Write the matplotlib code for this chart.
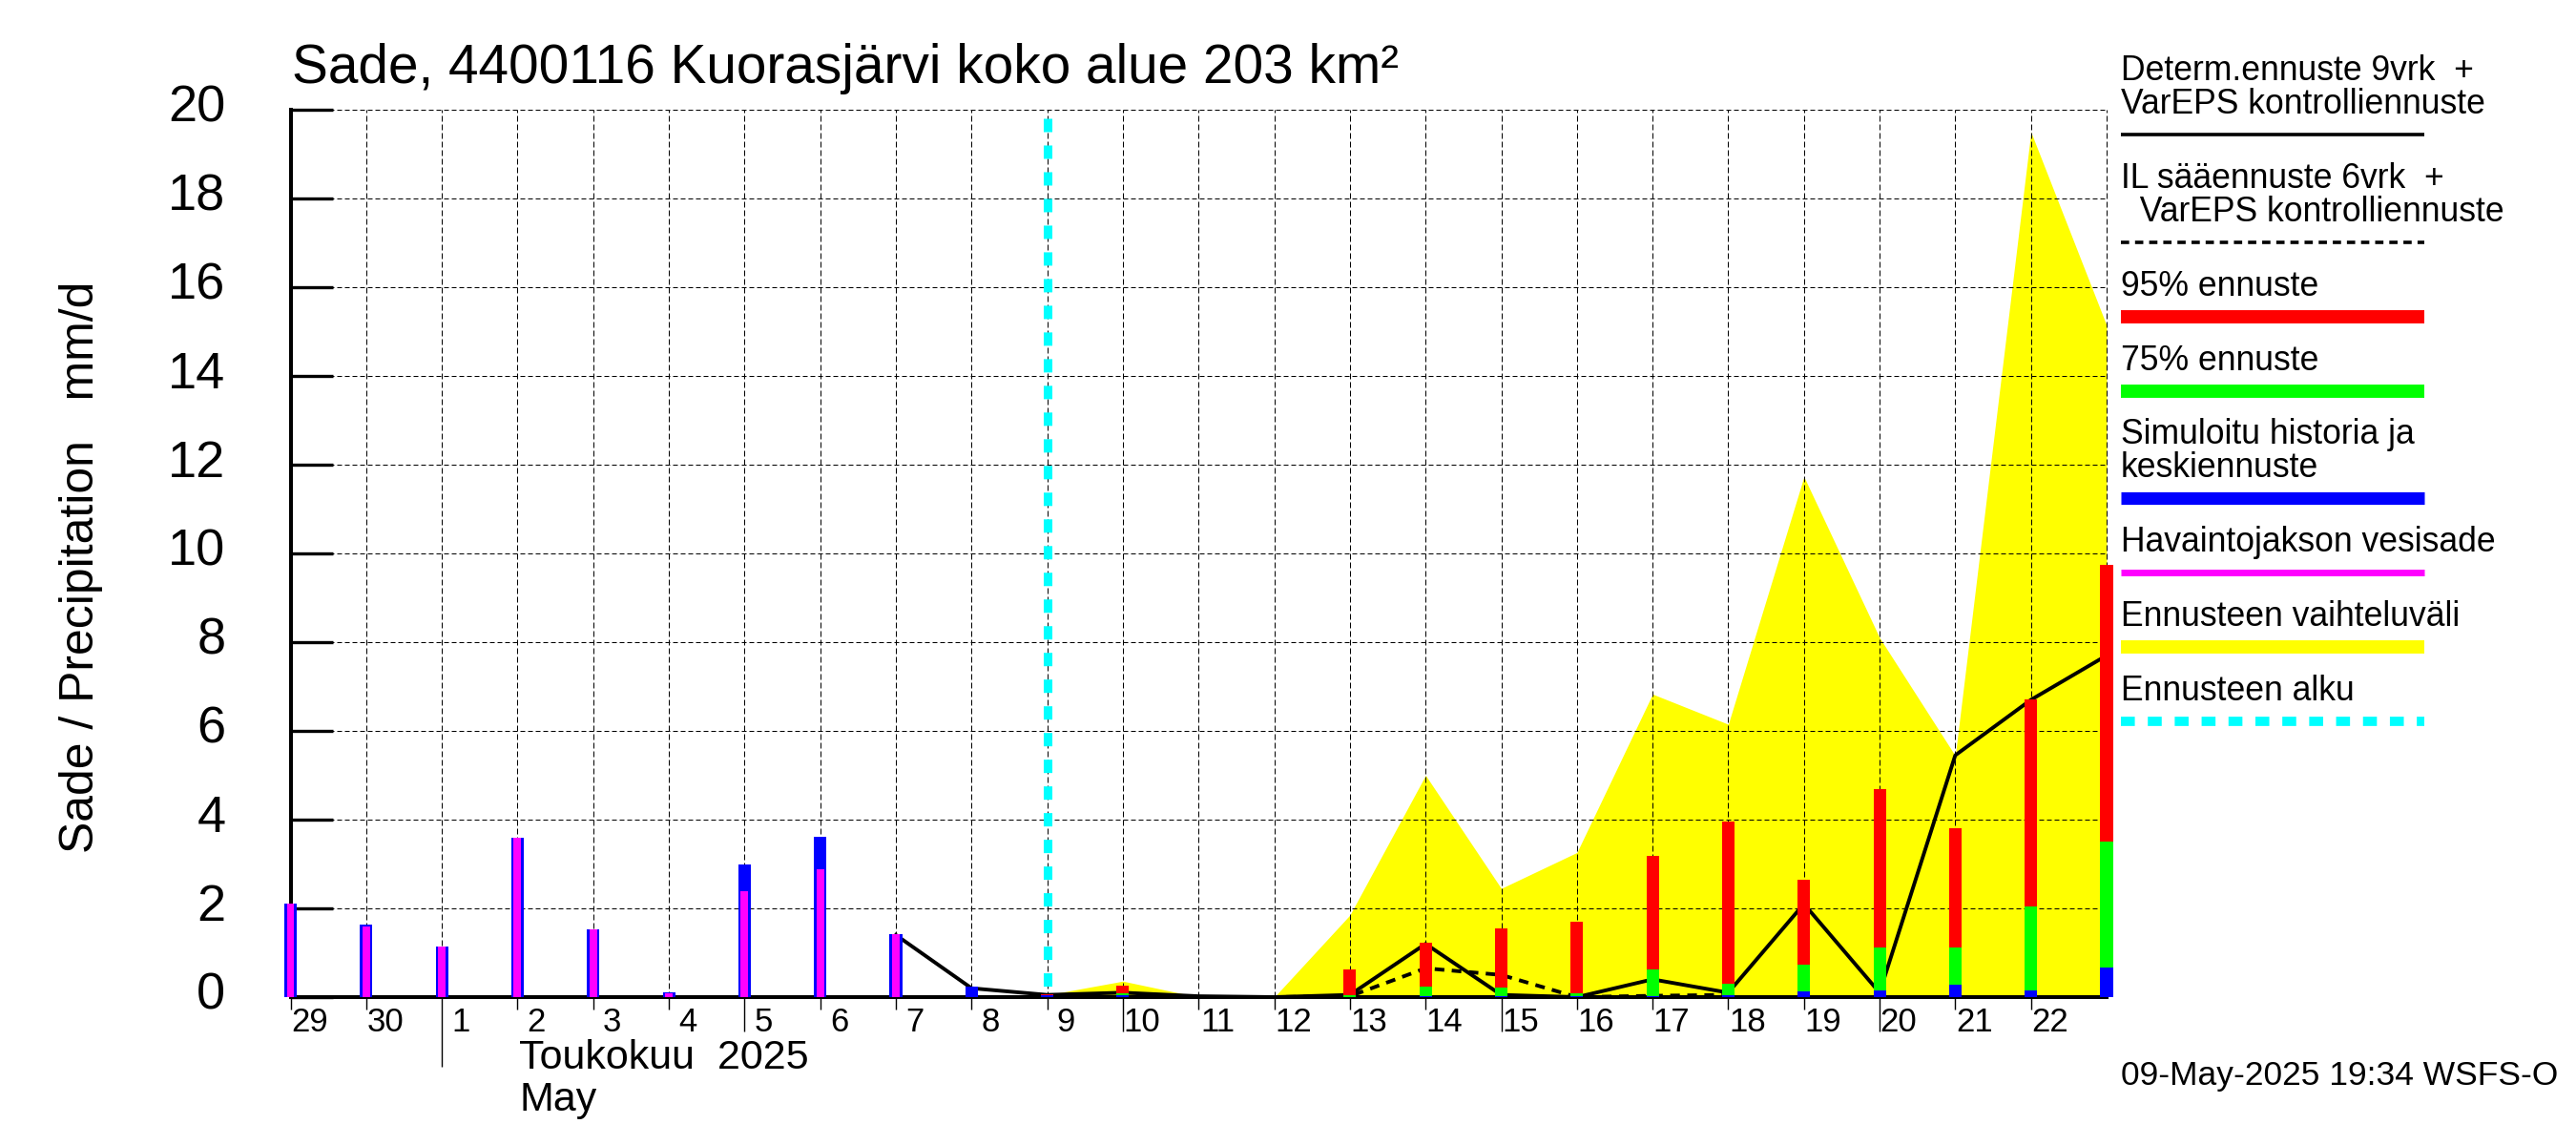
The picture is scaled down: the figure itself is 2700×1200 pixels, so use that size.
# %% libraries
import matplotlib
matplotlib.use("Agg")
import matplotlib.pyplot as plt
from matplotlib.transforms import ScaledTranslation

plt.rcParams["font.family"] = "Liberation Sans"

# %% values, one entry per day starting 29 April
day_labels = ["29", "30", "1", "2", "3", "4", "5", "6", "7", "8", "9", "10",
              "11", "12", "13", "14", "15", "16", "17", "18", "19", "20", "21", "22"]
y_ticks = [0, 2, 4, 6, 8, 10, 12, 14, 16, 18, 20]

# history (29 Apr - 8 May)
simulated = [2.11, 1.64, 1.14, 3.59, 1.53, 0.11, 3.0, 3.61, 1.42, 0.23]
observed = [2.11, 1.6, 1.14, 3.59, 1.53, 0.09, 2.39, 2.88, 1.42, 0.0]

# forecast bars, 9 May onward (last one is the right edge of the plot)
fc_days = [10, 11, 12, 13, 14, 15, 16, 17, 18, 19, 20, 21, 22, 23, 24]
fc_95 = [0.07, 0.26, 0.01, 0.01, 0.63, 1.23, 1.55, 1.7, 3.18, 3.96, 2.65, 4.69, 3.81, 6.71, 9.74]
fc_75 = [0.05, 0.08, 0.0, 0.0, 0.05, 0.24, 0.22, 0.09, 0.63, 0.3, 0.73, 1.12, 1.12, 2.04, 3.5]
fc_mean = [0.05, 0.05, 0.0, 0.0, 0.0, 0.03, 0.03, 0.03, 0.03, 0.05, 0.13, 0.15, 0.28, 0.15, 0.67]

# range of the forecast (yellow)
range_days = [10, 11, 12, 13, 14, 15, 16, 17, 18, 19, 20, 21, 22, 23, 24]
range_top = [0.05, 0.36, 0.0, 0.0, 1.85, 5.0, 2.45, 3.26, 6.83, 6.15, 11.73, 8.1, 5.44, 19.5, 15.14]

# deterministic forecast (solid) and IL forecast (dashed)
det_days = [8, 9, 10, 11, 12, 13, 14, 15, 16, 17, 18, 19, 20, 21, 22, 23, 24]
det_line = [1.4, 0.2, 0.05, 0.1, 0.02, 0.0, 0.05, 1.2, 0.05, 0.0, 0.4, 0.1, 2.1, 0.1, 5.45, 6.7, 7.7]
il_days = [10, 11, 12, 13, 14, 15, 16, 17, 18, 19]
il_line = [0.0, 0.0, 0.0, 0.0, 0.02, 0.65, 0.5, 0.0, 0.03, 0.05]

forecast_start = 10
# longer ticks below the axis, length in pixels
long_ticks = {2: 73, 6: 36, 11: 36, 16: 36, 21: 36}

# %% figure, the plot area is placed by pixels
W, H = 2700, 1200
fig = plt.figure(figsize=(27, 12), dpi=100)
left, right, top, bottom = 304.5, 2208, 115, 1045
ax = fig.add_axes([left / W, 1 - bottom / H, (right - left) / W, (bottom - top) / H])
ax.set_xlim(0, 24)
ax.set_ylim(0, 20)

ax.fill_between(range_days, range_top, 0, color="#ffff00", lw=0, zorder=1)

# thin grid above the yellow area, below everything else
ax.grid(True, axis="x", color="black", lw=0.72, ls=(0, (6, 3)))
ax.grid(True, axis="y", color="black", lw=0.72, ls=(0, (5, 3)))
ax.set_axisbelow(False)
for gl in ax.get_xgridlines() + ax.get_ygridlines():
    gl.set_zorder(2)
ax.axvline(24, color="black", lw=0.72, ls=(0, (6, 3)), zorder=2, clip_on=False)

ax.plot(det_days, det_line, color="black", lw=2.8, zorder=4, clip_on=False)
ax.plot(il_days, il_line, color="black", lw=2.8, ls=(0, (2.6, 2)), zorder=4)
# drawn from the top so a dash starts there
ax.plot([forecast_start, forecast_start], [19.8, 0], color="#00ffff", lw=6.5,
        ls=(0, (1.55, 1.55)), zorder=3, clip_on=False)

# bars
bar_w = 0.165
all_days = list(range(len(simulated)))
ax.bar(all_days, simulated, bar_w, color="#0000ff", zorder=5, clip_on=False)
ax.bar(all_days, observed, 0.10, color="#ff00ff", zorder=6, clip_on=False)
ax.bar(fc_days, fc_95, bar_w, color="#ff0000", zorder=5, clip_on=False)
ax.bar(fc_days, fc_75, bar_w, color="#00ff00", zorder=6, clip_on=False)
ax.bar(fc_days, fc_mean, bar_w, color="#0000ff", zorder=7, clip_on=False)

# axes
for side in ["top", "right"]:
    ax.spines[side].set_visible(False)
ax.spines["left"].set_linewidth(2.9)
ax.spines["bottom"].set_linewidth(2.9)
ax.spines["left"].set_zorder(3)
ax.spines["bottom"].set_zorder(3)

ax.set_yticks(y_ticks)
ax.set_yticklabels([str(v) for v in y_ticks], fontsize=39)
ax.tick_params(axis="y", direction="in", length=32, width=2.4, pad=49)
# numbers sit a little above their tick
for lbl in ax.get_yticklabels():
    lbl.set_transform(lbl.get_transform() + ScaledTranslation(0, 5 / 72, fig.dpi_scale_trans))

ax.set_xticks(range(len(day_labels)))
ax.set_xticklabels([])
ax.tick_params(axis="x", which="major", direction="out", length=9, width=1, color="black")
for i, t in enumerate(ax.xaxis.get_major_ticks()):
    if i in long_ticks:
        t.tick1line.set_markersize(long_ticks[i] * 0.72)

# day labels sit a bit right of the tick
ax.set_xticks([i + 0.25 for i in range(len(day_labels))], minor=True)
ax.set_xticklabels(day_labels, minor=True, fontsize=25)
ax.tick_params(axis="x", which="minor", length=0, pad=7)

# %% all the other text and the legend, in pixel coordinates
lg = fig.add_axes([0, 0, 1, 1], facecolor="none")
lg.set_xlim(0, W)
lg.set_ylim(H, 0)
lg.axis("off")

lg.text(306, 87, "Sade, 4400116 Kuorasjärvi koko alue 203 km²", fontsize=40.9, va="baseline")
lg.text(85, 594, "Sade / Precipitation   mm/d", fontsize=35.9, rotation=90,
        ha="center", va="center")
lg.text(544, 1120, "Toukokuu  2025", fontsize=31, va="baseline")
lg.text(544, 1164, "May", fontsize=31, va="baseline")
lg.text(2223, 1137, "09-May-2025 19:34 WSFS-O", fontsize=25.5, va="baseline")

leg_x0, leg_x1 = 2223, 2541
leg_texts = [
    (84, "Determ.ennuste 9vrk  +"),
    (119, "VarEPS kontrolliennuste"),
    (197, "IL sääennuste 6vrk  +"),
    (232, "  VarEPS kontrolliennuste"),
    (310, "95% ennuste"),
    (388, "75% ennuste"),
    (465, "Simuloitu historia ja"),
    (500, "keskiennuste"),
    (578, "Havaintojakson vesisade"),
    (656, "Ennusteen vaihteluväli"),
    (734, "Ennusteen alku"),
]
for y, txt in leg_texts:
    lg.text(leg_x0, y, txt, fontsize=25.6, va="baseline")

lg.plot([leg_x0, leg_x1], [141, 141], color="black", lw=2.6, solid_capstyle="butt")
lg.plot([leg_x0, leg_x1], [254, 254], color="black", lw=2.6, ls=(0, (2.4, 1.7)))
lg.plot([leg_x0, leg_x1], [332, 332], color="#ff0000", lw=10, solid_capstyle="butt")
lg.plot([leg_x0, leg_x1], [410, 410], color="#00ff00", lw=10, solid_capstyle="butt")
lg.plot([leg_x0, leg_x1], [522, 522], color="#0000ff", lw=9.5, solid_capstyle="butt")
lg.plot([leg_x0, leg_x1], [600, 600], color="#ff00ff", lw=5, solid_capstyle="butt")
lg.plot([leg_x0, leg_x1], [678, 678], color="#ffff00", lw=10, solid_capstyle="butt")
lg.plot([leg_x0, leg_x1], [756, 756], color="#00ffff", lw=7, ls=(0, (1.5, 1.4)))

fig.savefig("out.png", dpi=100)
